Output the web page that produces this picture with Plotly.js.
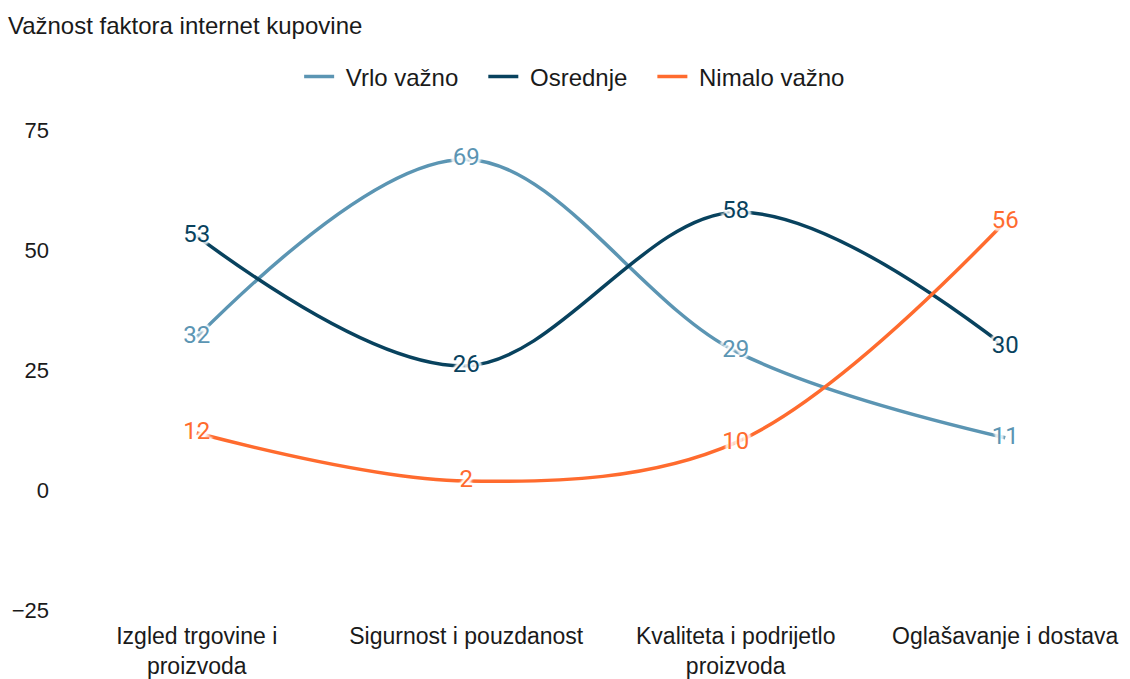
<!DOCTYPE html>
<html><head><meta charset="utf-8">
<script src="https://cdn.plot.ly/plotly-3.0.1.min.js"></script>
<style>html,body{margin:0;padding:0;background:#fff}#c{width:1130px;height:679px}</style>
</head><body><div id="c"></div>
<script>
const categories = ["Izgled trgovine i<br>proizvoda", "Sigurnost i pouzdanost", "Kvaliteta i podrijetlo<br>proizvoda", "Oglašavanje i dostava"];
const seriesNames = ["Vrlo važno", "Osrednje", "Nimalo važno"];
const vrloVazno = [32, 69, 29, 11];
const osrednje = [53, 26, 58, 30];
const nimaloVazno = [12, 2, 10, 56];
const colors = ["#5b95b3", "#08425e", "#ff6b2e"];
const yTicks = [-25, 0, 25, 50, 75];

const halo = "0 0 3px #fff, 0 0 3px #fff, 3px 0 2px #fff, -3px 0 2px #fff, 0 3px 2px #fff, 0 -3px 2px #fff";
const allSeries = [vrloVazno, osrednje, nimaloVazno];
const nb = "\u00a0";
const traces = allSeries.map((vals, i) => ({
  type: "scatter",
  mode: "lines+text",
  name: nb + seriesNames[i] + (i < 2 ? nb + nb + nb : ""),
  x: categories,
  y: vals,
  text: vals.map(String),
  textposition: "middle center",
  textfont: {family: "Roboto", size: 24, color: colors[i], shadow: halo},
  line: {color: colors[i], width: 3.5, shape: "spline", smoothing: 1},
  hoverinfo: "skip"
}));

const layout = {
  width: 1130, height: 679,
  paper_bgcolor: "#fff", plot_bgcolor: "#fff",
  margin: {l: 62, r: 0, t: 97, b: 54},
  font: {family: "Liberation Sans, Arial, sans-serif", size: 23, color: "#1a1a1a"},
  title: {text: "Važnost faktora internet kupovine", x: 0.007, xanchor: "left", y: 0.962, yanchor: "middle", font: {size: 24, color: "#1a1a1a"}},
  showlegend: true,
  legend: {orientation: "h", x: 0.48, xanchor: "center", y: 1.038, yanchor: "middle", xref: "paper", font: {size: 24, color: "#1a1a1a"}, itemwidth: 30, tracegroupgap: 0},
  xaxis: {type: "category", range: [-0.5, 3.463], showgrid: false, zeroline: false, showline: false, ticks: "", tickfont: {size: 23}, ticklabelstandoff: -5, automargin: false},
  yaxis: {range: [-28, 82], tickvals: yTicks, ticktext: yTicks.map(v => v < 0 ? "\u2212" + Math.abs(v) : String(v)), showgrid: false, zeroline: false, showline: false, ticks: "", tickfont: {size: 22}, ticklabelstandoff: 12, automargin: false}
};
Plotly.newPlot("c", traces, layout, {displayModeBar: false, staticPlot: true});
</script></body></html>
